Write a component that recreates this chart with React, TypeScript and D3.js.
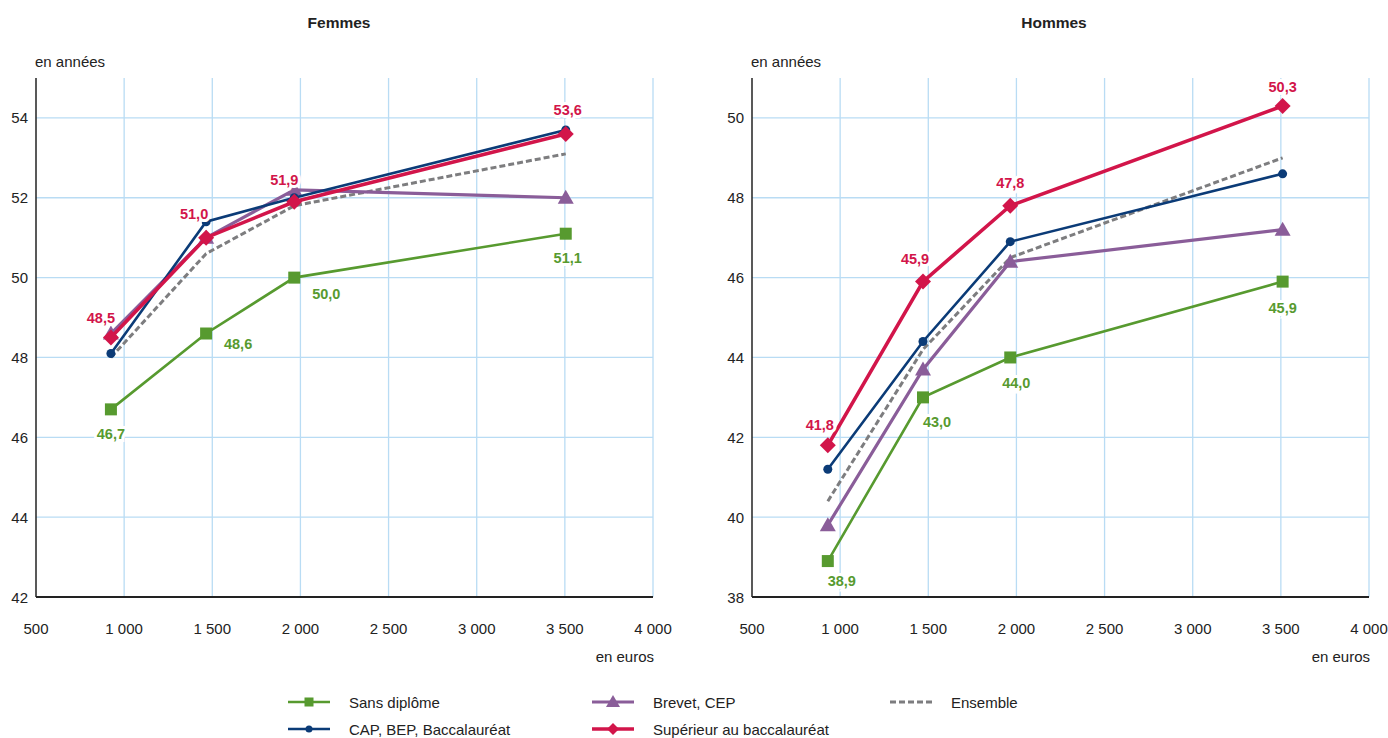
import React, { useEffect, useRef } from 'react';
import * as d3 from 'd3';

// Revenu mensuel (en euros) : position des points par panneau
const femmesX = [925, 1465, 1965, 3505];
const hommesX = [930, 1470, 1965, 3510];

// Femmes (en années)
const femmesSansDiplome = [46.7, 48.6, 50.0, 51.1];
const femmesCap = [48.1, 51.4, 52.0, 53.7];
const femmesBrevet = [48.6, 51.0, 52.2, 52.0];
const femmesSuperieur = [48.5, 51.0, 51.9, 53.6];
const femmesEnsemble = [48.0, 50.6, 51.8, 53.1];

// Hommes (en années)
const hommesSansDiplome = [38.9, 43.0, 44.0, 45.9];
const hommesCap = [41.2, 44.4, 46.9, 48.6];
const hommesBrevet = [39.8, 43.7, 46.4, 47.2];
const hommesSuperieur = [41.8, 45.9, 47.8, 50.3];
const hommesEnsemble = [40.4, 44.2, 46.5, 49.0];

const xTicks = [500, 1000, 1500, 2000, 2500, 3000, 3500, 4000];
const femmesYTicks = [42, 44, 46, 48, 50, 52, 54];
const hommesYTicks = [38, 40, 42, 44, 46, 48, 50];

const seriesNames = ['Sans diplôme', 'CAP, BEP, Baccalauréat', 'Brevet, CEP', 'Supérieur au baccalauréat', 'Ensemble'];

const COLORS = {
  green: '#579a2f',
  navy: '#0b3b77',
  purple: '#8a5d99',
  red: '#d2154a',
  gray: '#7d7d7f',
  grid: '#b9dcf4',
};

const FONT = '"Liberation Sans Narrow", "Liberation Sans", Arial, sans-serif';

type Marker = 'square' | 'circle' | 'triangle' | 'diamond' | 'none';

interface SeriesStyle {
  name: string;
  color: string;
  width: number;
  marker: Marker;
  dash?: string;
}

const styles: SeriesStyle[] = [
  { name: seriesNames[0], color: COLORS.green, width: 2.6, marker: 'square' },
  { name: seriesNames[1], color: COLORS.navy, width: 2.6, marker: 'circle' },
  { name: seriesNames[2], color: COLORS.purple, width: 3.2, marker: 'triangle' },
  { name: seriesNames[3], color: COLORS.red, width: 3.6, marker: 'diamond' },
  { name: seriesNames[4], color: COLORS.gray, width: 3, marker: 'none', dash: '6,3' },
];

// label offsets (px) relative to point: [dx, dy]
const femmesRedOffsets = [[-10, -20], [-12, -24], [-10, -22], [2, -24]];
const femmesGreenOffsets = [[0, 24], [32, 10], [32, 16], [2, 24]];
const hommesRedOffsets = [[-8, -21], [-8, -23], [0, -23], [0, -19]];
const hommesGreenOffsets = [[14, 19], [14, 24], [6, 25], [0, 26]];

function drawMarker(g: d3.Selection<SVGGElement, unknown, null, undefined>, m: Marker, x: number, y: number, color: string) {
  if (m === 'square') {
    g.append('rect').attr('x', x - 6).attr('y', y - 6).attr('width', 12).attr('height', 12).attr('fill', color);
  } else if (m === 'circle') {
    g.append('circle').attr('cx', x).attr('cy', y).attr('r', 4.5).attr('fill', color);
  } else if (m === 'triangle') {
    g.append('path').attr('d', `M${x},${y - 8}L${x + 8},${y + 6}L${x - 8},${y + 6}Z`).attr('fill', color);
  } else if (m === 'diamond') {
    g.append('path').attr('d', `M${x},${y - 8}L${x + 8},${y}L${x},${y + 8}L${x - 8},${y}Z`).attr('fill', color);
  }
}

const fmt = (v: number) => v.toFixed(1).replace('.', ',');

const App: React.FC = () => {
  const chartRef = useRef<SVGSVGElement | null>(null);

  useEffect(() => {
    const svg = d3.select(chartRef.current);
    svg.selectAll('*').remove();

    const top = 78;
    const bottom = 597;

    const panels = [
      {
        title: 'Femmes', titleX: 339, left: 36, right: 653, xs: femmesX, yDomain: [42, 55], yTicks: femmesYTicks,
        data: [femmesSansDiplome, femmesCap, femmesBrevet, femmesSuperieur, femmesEnsemble],
        redOff: femmesRedOffsets, greenOff: femmesGreenOffsets,
      },
      {
        title: 'Hommes', titleX: 1054, left: 752, right: 1369, xs: hommesX, yDomain: [38, 51], yTicks: hommesYTicks,
        data: [hommesSansDiplome, hommesCap, hommesBrevet, hommesSuperieur, hommesEnsemble],
        redOff: hommesRedOffsets, greenOff: hommesGreenOffsets,
      },
    ];

    panels.forEach((p) => {
      const x = d3.scaleLinear().domain([500, 4000]).range([p.left, p.right]);
      const y = d3.scaleLinear().domain(p.yDomain).range([bottom, top]);
      const g = svg.append('g');

      // Gridlines
      g.selectAll('.vgrid')
        .data(xTicks.slice(1))
        .enter()
        .append('line')
        .attr('x1', (d) => x(d)).attr('x2', (d) => x(d))
        .attr('y1', top).attr('y2', bottom)
        .attr('stroke', COLORS.grid).attr('stroke-width', 1.3);
      g.selectAll('.hgrid')
        .data(p.yTicks.slice(1))
        .enter()
        .append('line')
        .attr('x1', p.left).attr('x2', p.right)
        .attr('y1', (d) => y(d)).attr('y2', (d) => y(d))
        .attr('stroke', COLORS.grid).attr('stroke-width', 1.3);

      // Axes lines
      g.append('line').attr('x1', p.left).attr('x2', p.left).attr('y1', top).attr('y2', bottom)
        .attr('stroke', '#222').attr('stroke-width', 1.5);
      g.append('line').attr('x1', p.left).attr('x2', p.right).attr('y1', bottom).attr('y2', bottom)
        .attr('stroke', '#222').attr('stroke-width', 2);

      // Tick labels
      g.selectAll('.ytick')
        .data(p.yTicks)
        .enter()
        .append('text')
        .attr('x', p.left - 8).attr('y', (d) => y(d) + 5.5)
        .attr('text-anchor', 'end')
        .attr('font-size', 15).attr('font-family', FONT).attr('fill', '#222')
        .text((d) => d);
      g.selectAll('.xtick')
        .data(xTicks)
        .enter()
        .append('text')
        .attr('x', (d) => x(d)).attr('y', 634)
        .attr('text-anchor', 'middle')
        .attr('font-size', 15).attr('font-family', FONT).attr('fill', '#222')
        .text((d) => d3.format(',')(d).replace(',', ' '));

      // Titles / units
      g.append('text').attr('x', p.titleX).attr('y', 28).attr('text-anchor', 'middle')
        .attr('font-size', 15.5).attr('font-weight', 'bold').attr('font-family', FONT).attr('fill', '#222')
        .text(p.title);
      g.append('text').attr('x', p.left - 1).attr('y', 67)
        .attr('font-size', 15).attr('font-family', FONT).attr('fill', '#222')
        .text('en années');
      g.append('text').attr('x', p.right + 1).attr('y', 662).attr('text-anchor', 'end')
        .attr('font-size', 15).attr('font-family', FONT).attr('fill', '#222')
        .text('en euros');

      // Lines: draw order ensemble, sans, brevet, cap, superieur
      const order = [4, 0, 2, 1, 3];
      const line = d3.line<number>().x((_, i) => x(p.xs[i])).y((d) => y(d));
      order.forEach((si) => {
        const s = styles[si];
        const vals = p.data[si];
        g.append('path')
          .attr('d', line(vals))
          .attr('fill', 'none')
          .attr('stroke', s.color)
          .attr('stroke-width', s.width)
          .attr('stroke-dasharray', s.dash ?? null);
        vals.forEach((v, i) => drawMarker(g, s.marker, x(p.xs[i]), y(v), s.color));
      });

      // Value labels
      const addLabels = (vals: number[], offs: number[][], color: string) => {
        vals.forEach((v, i) => {
          g.append('text')
            .attr('x', x(p.xs[i]) + offs[i][0])
            .attr('y', y(v) + offs[i][1] + 5.5)
            .attr('text-anchor', 'middle')
            .attr('font-size', 14.5).attr('font-weight', 'bold').attr('font-family', FONT)
            .attr('fill', color)
            .attr('stroke', '#fff').attr('stroke-width', 6).attr('paint-order', 'stroke')
            .text(fmt(v));
        });
      };
      addLabels(p.data[3], p.redOff, COLORS.red);
      addLabels(p.data[0], p.greenOff, COLORS.green);
    });

    // Legend
    const legendPos = [
      [288, 702], [288, 729], [592, 702], [592, 729], [890, 702],
    ];
    styles.forEach((s, i) => {
      const [lx, ly] = legendPos[i];
      const g = svg.append('g');
      g.append('line').attr('x1', lx).attr('x2', lx + 42).attr('y1', ly).attr('y2', ly)
        .attr('stroke', s.color).attr('stroke-width', s.width).attr('stroke-dasharray', s.dash ?? null);
      const cx = lx + 21;
      if (s.marker === 'square') {
        g.append('rect').attr('x', cx - 4.5).attr('y', ly - 4.5).attr('width', 9).attr('height', 9).attr('fill', s.color);
      } else if (s.marker === 'circle') {
        g.append('circle').attr('cx', cx).attr('cy', ly).attr('r', 3.5).attr('fill', s.color);
      } else if (s.marker === 'triangle') {
        g.append('path').attr('d', `M${cx},${ly - 7}L${cx + 7},${ly + 5}L${cx - 7},${ly + 5}Z`).attr('fill', s.color);
      } else if (s.marker === 'diamond') {
        g.append('path').attr('d', `M${cx},${ly - 6}L${cx + 6},${ly}L${cx},${ly + 6}L${cx - 6},${ly}Z`).attr('fill', s.color);
      }
      g.append('text').attr('x', lx + 61).attr('y', ly + 5.5)
        .attr('font-size', 15).attr('font-family', FONT).attr('fill', '#222')
        .text(s.name);
    });
  }, []);

  return (
    <svg
      ref={chartRef}
      width={1388}
      height={738}
      style={{ position: 'absolute', left: 0, top: 0, background: '#fff' }}
    ></svg>
  );
};

export default App;
